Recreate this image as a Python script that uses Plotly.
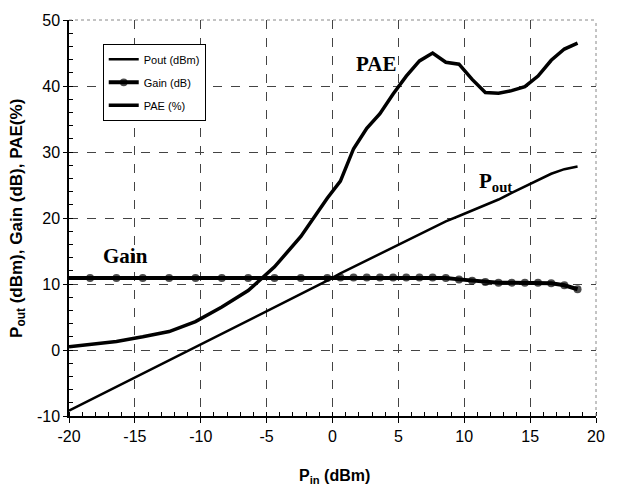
import plotly.graph_objects as go

# ---- data ----
pin = [-20, -18.4, -16.4, -14.4, -12.4, -10.4, -8.4, -6.4, -4.4, -2.4, -0.4,
       0.6, 1.6, 2.6, 3.6, 4.6, 5.6, 6.6, 7.6, 8.6, 9.6, 10.6, 11.6, 12.6,
       13.6, 14.6, 15.6, 16.6, 17.6, 18.6]

gain = [10.9, 10.9, 10.9, 10.9, 10.9, 10.9, 10.9, 10.9, 10.9, 10.9, 10.9,
        11.0, 11.0, 11.0, 11.0, 11.0, 11.0, 11.0, 11.0, 10.9, 10.7, 10.5, 10.3, 10.2,
        10.2, 10.2, 10.2, 10.1, 9.8, 9.2]

pout = [-9.2, -7.6, -5.6, -3.6, -1.6, 0.4, 2.4, 4.4, 6.4, 8.4, 10.5,
        11.6, 12.6, 13.6, 14.6, 15.6, 16.6, 17.6, 18.6, 19.5, 20.3, 21.1, 21.9, 22.8,
        23.8, 24.8, 25.8, 26.7, 27.4, 27.8]

pae = [0.5, 0.8, 1.3, 2.0, 2.8, 4.3, 6.5, 9.0, 12.6, 17.2, 23.0,
       25.6, 30.5, 33.6, 35.8, 38.8, 41.5, 43.8, 45.0, 43.6, 43.3, 41.0, 39.0, 38.9,
       39.3, 39.9, 41.5, 43.9, 45.6, 46.5]

x_ticks = [-20, -15, -10, -5, 0, 5, 10, 15, 20]
y_ticks = [-10, 0, 10, 20, 30, 40, 50]

series_names = ["Pout (dBm)", "Gain (dB)", "PAE (%)"]

SANS = "Liberation Sans, Arial, sans-serif"
SERIF = "Liberation Serif, Times New Roman, serif"

gain_marker_sizes = [0] + [8] * (len(pin) - 1)

fig = go.Figure()
fig.add_trace(go.Scatter(x=pin, y=pout, mode="lines", name=series_names[0],
                         line=dict(color="black", width=2.5), legendgroup="a"))
fig.add_trace(go.Scatter(x=pin, y=gain, mode="lines+markers", name=series_names[1],
                         line=dict(color="black", width=4),
                         marker=dict(color="black", size=gain_marker_sizes, symbol="circle",
                                     line=dict(width=0)),
                         legendgroup="b"))
fig.add_trace(go.Scatter(x=pin, y=pae, mode="lines", name=series_names[2],
                         line=dict(color="black", width=3.5), legendgroup="c"))

# annotations
fig.add_annotation(x=3.3, y=43.3, text="<b>PAE</b>", showarrow=False,
                   font=dict(family=SERIF, size=21, color="black"))
fig.add_annotation(x=12.4, y=25.4, text="<b>P<sub>out</sub></b>", showarrow=False,
                   font=dict(family=SERIF, size=21, color="black"))
fig.add_annotation(x=-15.7, y=14.2, text="<b>Gain</b>", showarrow=False,
                   font=dict(family=SERIF, size=21, color="black"))

# axis titles as annotations
fig.add_annotation(xref="paper", yref="paper", x=-0.097, y=0.5, textangle=-90,
                   text="<b>P<sub>out</sub> (dBm), Gain (dB), PAE(%)</b>", showarrow=False,
                   xanchor="center", yanchor="middle",
                   font=dict(family=SANS, size=17, color="black"))
fig.add_annotation(xref="paper", yref="paper", x=0.504, y=-0.152,
                   text="<b>P<sub>in</sub> (dBm)</b>", showarrow=False,
                   xanchor="center", yanchor="middle",
                   font=dict(family=SANS, size=16, color="black"))

# dotted top/right border
fig.add_shape(type="line", xref="paper", yref="paper", x0=0, x1=1, y0=1, y1=1,
              line=dict(color="#888888", width=1, dash="dot"))
fig.add_shape(type="line", xref="paper", yref="paper", x0=1, x1=1, y0=0, y1=1,
              line=dict(color="#888888", width=1, dash="dot"))

fig.update_layout(
    width=617, height=492,
    margin=dict(l=69, r=14, t=12, b=76),
    paper_bgcolor="white", plot_bgcolor="white",
    font=dict(family=SANS, color="black"),
    showlegend=True,
    legend=dict(x=0.064, y=0.94, xanchor="left", yanchor="top",
                bgcolor="white", bordercolor="black", borderwidth=1,
                font=dict(family=SANS, size=11, color="black"),
                traceorder="grouped", tracegroupgap=4, itemwidth=30),
    xaxis=dict(range=[-20, 20], tickvals=x_ticks, ticktext=[str(v) for v in x_ticks],
               showline=True, linecolor="black", linewidth=1.5,
               ticks="outside", ticklen=5, tickcolor="black",
               tickfont=dict(family=SANS, size=16, color="black"),
               showgrid=True, gridcolor="#444444", griddash="dash", gridwidth=1,
               zeroline=False,
               minor=dict(dtick=1, ticks="inside", ticklen=4, tickcolor="black", showgrid=False)),
    yaxis=dict(range=[-10, 50], tickvals=y_ticks, ticktext=[str(v) for v in y_ticks],
               showline=True, linecolor="black", linewidth=1.5,
               ticks="outside", ticklen=4, tickcolor="black",
               tickfont=dict(family=SANS, size=16, color="black"),
               showgrid=True, gridcolor="#444444", griddash="dash", gridwidth=1,
               zeroline=False,
               minor=dict(dtick=2, ticks="inside", ticklen=4, tickcolor="black", showgrid=False)),
)

fig.write_html("out.html")
